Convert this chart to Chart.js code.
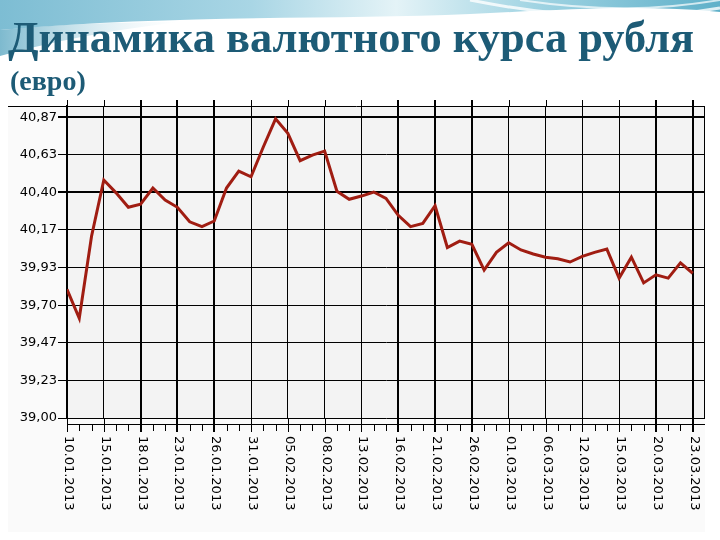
<!DOCTYPE html>
<html>
<head>
<meta charset="utf-8">
<script src="https://cdn.jsdelivr.net/npm/chart.js@4"></script>
<style>
  html, body { margin: 0; padding: 0; width: 720px; height: 540px; overflow: hidden; background: #ffffff; }
  #deco { position: absolute; left: 0; top: 0; }
  #wrap { position: absolute; left: 0; top: 0; width: 720px; height: 540px; }
  .ttl { position: absolute; font-family: "Liberation Serif", "Times New Roman", serif; font-weight: bold; color: #1d5b76; line-height: 1; white-space: nowrap; transform-origin: 0 0; }
  #t1 { left: 8px; top: 16px; font-size: 44px; }
  #t2 { left: 10px; top: 67px; font-size: 28px; }
</style>
</head>
<body>
<svg id="deco" width="720" height="110" viewBox="0 0 720 110">
  <defs>
    <linearGradient id="g1" x1="0" y1="0" x2="1" y2="0">
      <stop offset="0" stop-color="#7dbdd3"/>
      <stop offset="0.35" stop-color="#a9d6e5"/>
      <stop offset="0.55" stop-color="#e4f3f7"/>
      <stop offset="0.75" stop-color="#9fd3e2"/>
      <stop offset="1" stop-color="#5fb0c9"/>
    </linearGradient>
    <linearGradient id="g2" x1="0" y1="0" x2="1" y2="0">
      <stop offset="0" stop-color="#6fb2c9" stop-opacity="0.9"/>
      <stop offset="1" stop-color="#d9eef4" stop-opacity="0"/>
    </linearGradient>
  </defs>
  <path d="M0,0 H720 V12 C640,4 560,10 470,14 C340,20 180,14 0,30 Z" fill="url(#g1)"/>
  <path d="M0,30 C60,24 120,22 180,22 C110,30 50,42 0,56 Z" fill="url(#g2)"/>
  <path d="M470,0 C560,18 640,22 720,8" stroke="#ffffff" stroke-width="3" fill="none" opacity="0.8"/>
  <path d="M520,0 C600,12 660,10 720,0" stroke="#ffffff" stroke-width="2" fill="none" opacity="0.7"/>
</svg>
<div id="wrap"><canvas id="c" width="720" height="540"></canvas></div>
<div class="ttl" id="t1">Динамика валютного курса рубля</div>
<div class="ttl" id="t2">(евро)</div>
<script>
// ---- data ----
const dateLabels = [
  '10.01.2013','11.01.2013','12.01.2013','15.01.2013','16.01.2013','17.01.2013',
  '18.01.2013','19.01.2013','22.01.2013','23.01.2013','24.01.2013','25.01.2013',
  '26.01.2013','29.01.2013','30.01.2013','31.01.2013','01.02.2013','02.02.2013',
  '05.02.2013','06.02.2013','07.02.2013','08.02.2013','09.02.2013','12.02.2013',
  '13.02.2013','14.02.2013','15.02.2013','16.02.2013','19.02.2013','20.02.2013',
  '21.02.2013','22.02.2013','23.02.2013','26.02.2013','27.02.2013','28.02.2013',
  '01.03.2013','02.03.2013','05.03.2013','06.03.2013','07.03.2013','09.03.2013',
  '12.03.2013','13.03.2013','14.03.2013','15.03.2013','16.03.2013','19.03.2013',
  '20.03.2013','21.03.2013','22.03.2013','23.03.2013'
];
const euroRate = [
  39.80, 39.62, 40.13, 40.48, 40.40, 40.31,
  40.33, 40.43, 40.355, 40.31, 40.22, 40.19,
  40.225, 40.43, 40.535, 40.50, 40.685, 40.86,
  40.77, 40.60, 40.635, 40.66, 40.41, 40.36,
  40.38, 40.405, 40.365, 40.26, 40.19, 40.21,
  40.32, 40.06, 40.10, 40.08, 39.92, 40.03,
  40.09, 40.045, 40.02, 40.00, 39.99, 39.97,
  40.005, 40.03, 40.05, 39.87, 40.00, 39.84,
  39.89, 39.87, 39.965, 39.90
];
const yTickValues = [39.00, 39.234, 39.468, 39.701, 39.935, 40.169, 40.403, 40.636, 40.87];
const yTickLabels = ['39,00','39,23','39,47','39,70','39,93','40,17','40,40','40,63','40,87'];
const labelEvery = 3;

// ---- style ----
const thickX = new Set(['18.01.2013','23.01.2013','26.01.2013','16.02.2013','21.02.2013','26.02.2013','20.03.2013','23.03.2013']);
const thickY = new Set(['40,87','40,40']);
const tickFamily = '"DejaVu Sans", Verdana, sans-serif';
const tickFont = '13px ' + tickFamily;

// fit title width
(function(){
  const t1 = document.getElementById('t1');
  const w = t1.getBoundingClientRect().width;
  const target = 686;
  t1.style.transform = 'scaleX(' + (target / w) + ')';
})();

const framePlugin = {
  id: 'frame',
  beforeDraw(chart) {
    const { ctx, chartArea: a } = chart;
    ctx.save();
    ctx.fillStyle = '#fafafa';
    ctx.fillRect(8, 106, 697, 426);
    ctx.fillStyle = '#f3f3f3';
    ctx.fillRect(a.left, a.top, a.right - a.left, a.bottom - a.top);
    ctx.restore();
  },
  afterDraw(chart) {
    const { ctx, chartArea: a } = chart;
    const xs = chart.scales.x;
    ctx.save();
    ctx.strokeStyle = '#000';
    ctx.lineWidth = 1;
    ctx.beginPath();
    ctx.moveTo(8, a.top + 0.5); ctx.lineTo(a.right, a.top + 0.5);
    ctx.moveTo(a.right - 0.5, a.top); ctx.lineTo(a.right - 0.5, a.bottom);
    ctx.moveTo(a.left, a.bottom + 6.5); ctx.lineTo(a.right, a.bottom + 6.5);
    ctx.stroke();
    ctx.fillStyle = '#000';
    ctx.font = tickFont;
    ctx.textAlign = 'left';
    ctx.textBaseline = 'middle';
    for (let i = 0; i < dateLabels.length; i++) {
      const x = Math.round(xs.getPixelForValue(i));
      const major = i % labelEvery === 0;
      if (major) {
        const w = thickX.has(dateLabels[i]) ? 2 : 1;
        ctx.fillRect(x - (w === 2 ? 1 : 0), a.bottom, w, 14);
        ctx.fillRect(x - (w === 2 ? 1 : 0), a.top - 6, w, 6);
        ctx.save();
        ctx.translate(x + 1, a.bottom + 18);
        ctx.rotate(Math.PI / 2);
        ctx.fillText(dateLabels[i], 0, 0);
        ctx.restore();
      } else {
        ctx.fillRect(x, a.bottom + 6, 1, 7);
      }
    }
    ctx.restore();
  }
};

new Chart(document.getElementById('c'), {
  type: 'line',
  data: {
    datasets: [{
      data: euroRate.map((v, i) => ({ x: i, y: v })),
      borderColor: '#a01d12',
      borderWidth: 3,
      pointRadius: 0,
      tension: 0,
      fill: false
    }]
  },
  options: {
    responsive: false,
    animation: false,
    layout: { padding: { left: 0, top: 106, right: 15, bottom: 0 } },
    plugins: { legend: { display: false }, tooltip: { enabled: false } },
    scales: {
      x: {
        type: 'linear',
        min: 0,
        max: dateLabels.length,
        afterFit(scale) { scale.height = 122; },
        ticks: { display: false, stepSize: 1, autoSkip: false, maxTicksLimit: 200 },
        grid: {
          drawTicks: false,
          color: c => (c.tick && c.tick.value % labelEvery === 0 && c.tick.value < dateLabels.length) ? '#000' : 'rgba(0,0,0,0)',
          lineWidth: c => (c.tick && thickX.has(dateLabels[c.tick.value])) ? 2 : 1
        },
        border: { display: false }
      },
      y: {
        min: 39.0,
        max: 40.94,
        afterFit(scale) { scale.width = 67; },
        afterBuildTicks(scale) { scale.ticks = yTickValues.map(v => ({ value: v })); },
        ticks: {
          font: { family: tickFamily, size: 13 },
          color: '#000',
          padding: 1,
          callback: (v, i) => yTickLabels[i]
        },
        grid: {
          color: '#000',
          tickColor: '#000',
          tickLength: 9,
          lineWidth: c => (c.index !== undefined && thickY.has(yTickLabels[c.index])) ? 2 : 1
        },
        border: { display: true, color: '#000', width: 2 }
      }
    }
  },
  plugins: [framePlugin]
});
</script>
</body>
</html>
